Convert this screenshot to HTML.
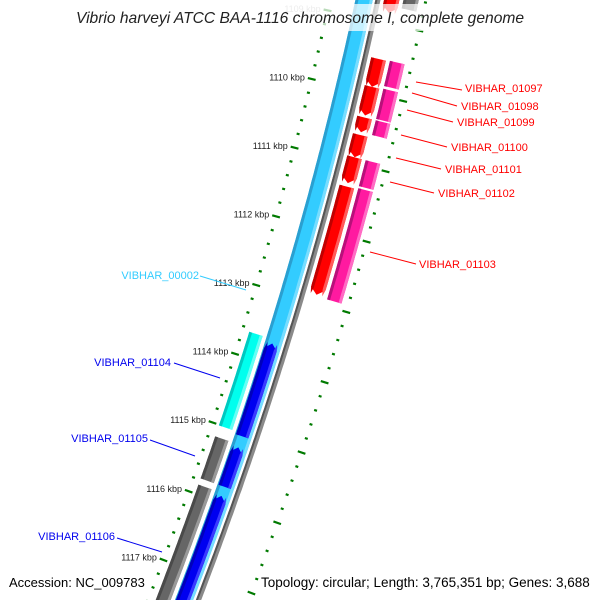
<!DOCTYPE html>
<html><head><meta charset="utf-8">
<style>
html,body{margin:0;padding:0;background:#fff;width:600px;height:600px;overflow:hidden;}
svg{display:block;overflow:hidden;font-family:"Liberation Sans","DejaVu Sans",sans-serif;}
</style></head>
<body>
<svg id="map" width="600" height="600" viewBox="0 0 600 600" xmlns="http://www.w3.org/2000/svg">
<defs><clipPath id="frame"><rect x="0" y="0" width="600" height="600"/></clipPath></defs>
<g clip-path="url(#frame)">
<g id="ticks"></g>
<g id="tracks"></g>
<g id="labels"></g>
</g>
<rect x="76" y="4" width="452" height="27" fill="#fff" opacity="0.72"/>
<text x="300" y="23" text-anchor="middle" font-size="15.6" font-style="italic" fill="#222">Vibrio harveyi ATCC BAA-1116 chromosome I, complete genome</text>
<text x="9" y="587" font-size="13" fill="#000">Accession: NC_009783</text>
<text x="261" y="587" font-size="13.5" fill="#000">Topology: circular; Length: 3,765,351 bp; Genes: 3,688</text>
</svg>
<script>
// ---- data ----
const majorTicks = [1109, 1110, 1111, 1112, 1113, 1114, 1115, 1116, 1117];
const redStarts  = [1108.0, 1109.51, 1109.91, 1110.35, 1110.60, 1110.92, 1111.34];
const redEnds    = [1108.85, 1109.91, 1110.32, 1110.56, 1110.92, 1111.29, 1112.89];
const pinkStarts = [1109.50, 1109.90, 1110.35, 1110.92, 1111.32];
const pinkEnds   = [1109.86, 1110.33, 1110.56, 1111.29, 1112.91];
const blueStarts = [1113.71, 1115.21, 1115.91];
const blueEnds   = [1115.05, 1115.78, 1117.8];
const grayStarts = [1115.17, 1115.87];
const grayEnds   = [1115.78, 1117.8];
const aquaStart = 1113.65, aquaEnd = 1115.01;
const rightLabels = ["VIBHAR_01097","VIBHAR_01098","VIBHAR_01099","VIBHAR_01100","VIBHAR_01101","VIBHAR_01102","VIBHAR_01103"];

// ---- geometry ----
const NS = "http://www.w3.org/2000/svg";
function yOf(k){ return 90 + (k - 1110) * 69.5; }
function cx(y){ return 377.9 - 0.2150*y - 0.0001399*y*y; }
function cd(y){ return -0.2150 - 0.0002798*y; }
function P(y,d){ const s=cd(y); const n=Math.sqrt(1+s*s); return [cx(y)+d/n, y - d*s/n]; }
function mk(tag, attrs, parent){ const e=document.createElementNS(NS,tag); for(const a in attrs) e.setAttribute(a, attrs[a]); parent.appendChild(e); return e; }
function band(k1,k2,d1,d2,fill,parent,arrow){
  const y1=yOf(k1), y2=yOf(k2), L=6;
  let a=y1, b=y2;
  if(arrow==='down') b=y2-L;
  if(arrow==='up') a=y1+L;
  const left=[], right=[];
  const n=Math.max(2,Math.ceil((b-a)/4));
  for(let i=0;i<=n;i++){ const y=a+(b-a)*i/n; left.push(P(y,d1)); right.push(P(y,d2)); }
  let pts=[];
  if(arrow==='up') pts.push(P(y1,(d1+d2)/2));
  pts=pts.concat(left);
  if(arrow==='down') pts.push(P(y2,(d1+d2)/2));
  pts=pts.concat(right.reverse());
  return mk('polygon',{points:pts.map(p=>p[0].toFixed(1)+','+p[1].toFixed(1)).join(' '),fill:fill},parent);
}
function gene(k1,k2,d1,d2,cols,parent,arrow,name){
  const g=mk('g',{},parent);
  
  
  band(k1,k2,d1,d2,cols[1],g,arrow);
  band(k1,k2,d1,d1+3,cols[0],g,arrow);
  band(k1,k2,d2-3,d2,cols[2],g,arrow);
}

const tracks=document.getElementById('tracks');
const ticks=document.getElementById('ticks');
const labels=document.getElementById('labels');

// ruler ticks
for(let k=1108.6;k<=1118.01;k+=0.2){
  const kk=Math.round(k*10)/10, y=yOf(kk);
  if(y<-20||y>640) continue;
  const major=Math.abs(kk-Math.round(kk))<0.01;
  const len=major?4:1.5;
  [-47,47].forEach(d=>{
    const p1=P(y,d-len), p2=P(y,d+len);
    const ln=mk('line',{x1:p1[0],y1:p1[1],x2:p2[0],y2:p2[1],stroke:'#007a00','stroke-width':2.2},ticks);
    
    
  });
}
majorTicks.forEach(k=>{
  const p=P(yOf(k),-54);
  const t=mk('text',{x:p[0],y:p[1]+3,'text-anchor':'end','font-size':9,fill:k===1109?'#bbb':'#222'},ticks);
  t.textContent=k+' kbp';
  
  
});

// backbone & cyan track
gene(1107.5,1118.5,-22,-5,['#2a9fd0','#33ccff','#77ddff'],tracks,null,'gene-vibhar-00002');
const bb=mk('g',{},tracks);


band(1107.5,1118.5,-2.5,2.5,'#8a8a8a',bb,null);
band(1107.5,1118.5,-2.5,-0.5,'#555',bb,null);

// red genes
for(let i=0;i<redStarts.length;i++) gene(redStarts[i],redEnds[i],6,21,['#c00000','#ff0000','#ff5a5a'],tracks,'down','red-gene');
// pink track
gene(1108.0,1108.75,25,40,['#555','#666','#999'],tracks,null,'gray-gene-top');
for(let i=0;i<pinkStarts.length;i++) gene(pinkStarts[i],pinkEnds[i],25,40,['#b8107a','#ff1aa0','#ff6cc4'],tracks,null,'pink-gene');
// left genes
gene(aquaStart,aquaEnd,-40,-26,['#00c8c0','#00ffee','#66fff4'],tracks,null,'gene-vibhar-01104');
for(let i=0;i<grayStarts.length;i++) gene(grayStarts[i],grayEnds[i],-40,-26,['#4a4a4a','#666','#999'],tracks,null,'gray-gene');
for(let i=0;i<blueStarts.length;i++) gene(blueStarts[i],blueEnds[i],-21,-8,['#0000bb','#0000f0','#3a3aff'],tracks,'up','blue-gene');

// labels
const rl=[[416,82,462,90,465,92],[412,93,457,106,461,110],[407,110,453,122,457,126],[401,135,447,147,451,151],[396,158,441,169,445,173],[390,182,434,193,438,197],[370,252,416,264,419,268]];
rl.forEach((r,i)=>{
  const l=mk('line',{x1:r[0],y1:r[1],x2:r[2],y2:r[3],stroke:'#ff0000','stroke-width':1},labels);
  
  
  const t=mk('text',{x:r[4],y:r[5],'font-size':11,fill:'#ff0000'},labels);
  t.textContent=rightLabels[i];
  
  
});
const ll=[["VIBHAR_00002",'#33ccff',200,276,246,290,199,279],["VIBHAR_01104",'#0000ee',174,363,220,378,171,366],["VIBHAR_01105",'#0000ee',150,440,195,456,148,442],["VIBHAR_01106",'#0000ee',117,538,162,552,115,540]];
ll.forEach(r=>{
  const l=mk('line',{x1:r[2],y1:r[3],x2:r[4],y2:r[5],stroke:r[1],'stroke-width':1},labels);
  
  
  const t=mk('text',{x:r[6],y:r[7],'font-size':11,fill:r[1],'text-anchor':'end'},labels);
  t.textContent=r[0];
  
  
});
</script>
</body></html>
